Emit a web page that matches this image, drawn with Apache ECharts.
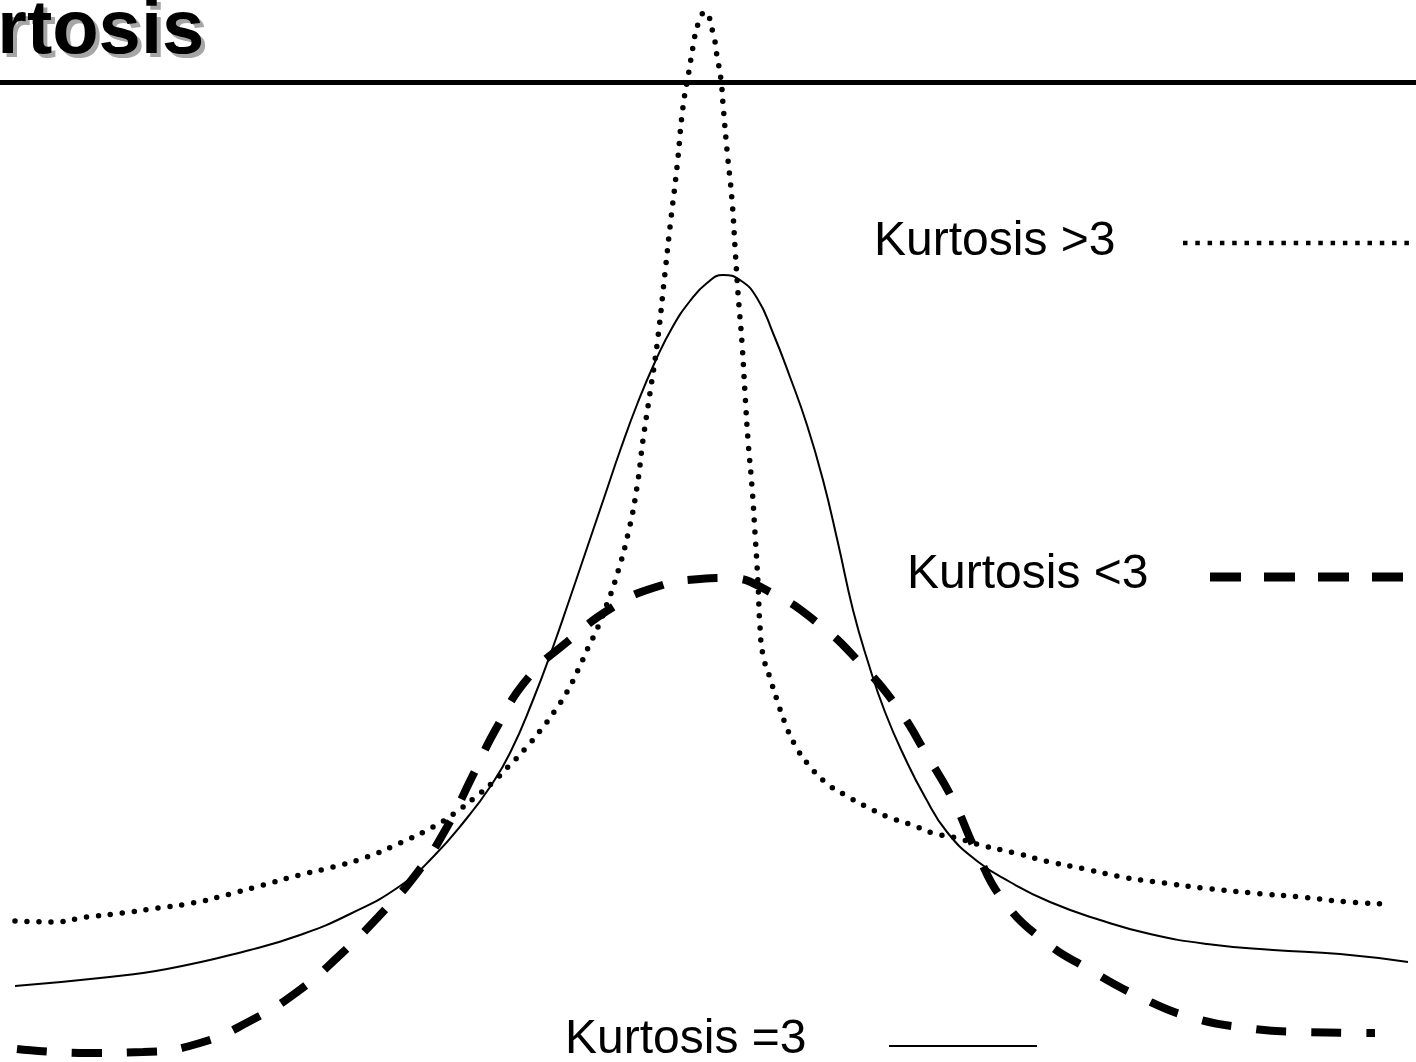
<!DOCTYPE html>
<html>
<head>
<meta charset="utf-8">
<title>Kurtosis</title>
<script src="https://cdn.jsdelivr.net/npm/echarts@6/dist/echarts.min.js"></script>
<style>
  html, body { margin: 0; padding: 0; background: #fff; }
  #chart { width: 1416px; height: 1062px; }
</style>
</head>
<body>
<div id="chart"></div>
<script>
// Curve samples: horizontal position and vertical position (measured from the top)
// Kurtosis = 3 (mesokurtic, solid)
const mesoX = [15, 100, 167, 250, 300, 350, 400, 433, 467, 490, 510, 533, 553, 570, 587, 604, 621, 638, 655, 672, 690, 707, 723, 740, 757, 773, 790, 807, 823, 838, 853, 868, 885, 905, 925, 947, 977, 1010, 1050, 1100, 1150, 1207, 1273, 1340, 1408];
const mesoY = [986, 978, 969, 950, 935, 914, 886, 857, 818, 787, 753, 700, 647, 598, 548, 498, 448, 402, 362, 328, 301, 283, 275, 280, 298, 333, 377, 425, 480, 543, 610, 662, 712, 758, 797, 832, 861, 882, 902, 920, 934, 944, 950, 954, 962];

// Kurtosis > 3 (leptokurtic, dotted)
const leptoX = [15, 52, 87, 123, 158, 193, 230, 263, 300, 333, 367, 400, 433, 455, 473, 492, 508, 525, 540, 554, 567, 578, 588, 598, 607, 616, 628, 637, 643, 650, 657, 665, 670, 677, 683, 689, 693, 698, 705, 713, 717, 721, 723, 727, 732, 735, 738, 742, 745, 748, 752, 755, 758, 760, 763, 770, 777, 785, 795, 808, 825, 845, 867, 888, 912, 933, 957, 980, 1015, 1050, 1085, 1122, 1157, 1203, 1252, 1300, 1348, 1383];
const leptoY = [921, 922, 917, 913, 908, 903, 894, 885, 875, 867, 857, 843, 827, 813, 799, 783, 767, 749, 731, 712, 692, 670, 648, 627, 604, 578, 534, 487, 440, 393, 345, 273, 227, 167, 107, 71, 47, 24, 12, 33, 56, 80, 104, 150, 200, 247, 293, 343, 393, 440, 487, 533, 583, 627, 655, 678, 700, 723, 745, 764, 782, 795, 807, 817, 825, 833, 838, 845, 853, 862, 869, 877, 882, 888, 893, 897, 902, 904];

// Kurtosis < 3 (platykurtic, dashed)
const platyX = [17, 87, 143, 200, 250, 297, 340, 380, 417, 447, 472, 497, 528, 567, 613, 653, 700, 727, 770, 820, 860, 897, 928, 953, 977, 1003, 1043, 1090, 1140, 1190, 1247, 1303, 1375];
const platyY = [1049, 1053, 1052, 1043, 1021, 992, 955, 915, 873, 827, 777, 727, 678, 642, 607, 588, 579, 578, 592, 625, 663, 707, 757, 800, 853, 900, 940, 970, 997, 1017, 1028, 1032, 1033];

const labels = ['Kurtosis >3', 'Kurtosis <3', 'Kurtosis =3'];
const titleText = 'Kurtosis';

const zip = (xs, ys) => xs.map((x, i) => [x, ys[i]]);

const FONT = '"Liberation Sans", Arial, Helvetica, sans-serif';
const TITLE_FONT = 'bold 76px ' + FONT;
const LABEL_FONT = '48px ' + FONT;

const chart = echarts.init(document.getElementById('chart'), null, { renderer: 'canvas' });

chart.setOption({
  backgroundColor: '#ffffff',
  animation: false,
  grid: { left: 0, right: 0, top: 0, bottom: 0 },
  xAxis: { type: 'value', min: 0, max: 1416, show: false },
  yAxis: { type: 'value', min: 0, max: 1062, inverse: true, show: false },
  series: [
    {
      name: labels[2],
      type: 'line',
      data: zip(mesoX, mesoY),
      smooth: 0.5,
      showSymbol: false,
      lineStyle: { color: '#000', width: 2 },
      z: 3
    },
    {
      name: labels[0],
      type: 'line',
      data: zip(leptoX, leptoY),
      smooth: 0.5,
      showSymbol: false,
      lineStyle: { color: '#000', width: 5.5, type: [0, 12], cap: 'round' },
      z: 4
    },
    {
      name: labels[1],
      type: 'line',
      data: zip(platyX, platyY),
      smooth: 0.5,
      showSymbol: false,
      lineStyle: { color: '#000', width: 8, type: [30, 25], cap: 'butt' },
      z: 2
    }
  ],
  graphic: [
    // heading with its drop shadow, and the rule beneath it
    {
      type: 'text', x: -100, y: 36, z: 9,
      style: { text: titleText, fill: '#a6a6a6', font: TITLE_FONT, verticalAlign: 'middle' }
    },
    {
      type: 'text', x: -104, y: 32, z: 10,
      style: { text: titleText, fill: '#000', font: TITLE_FONT, verticalAlign: 'middle' }
    },
    {
      type: 'line', z: 10,
      shape: { x1: 0, y1: 82.5, x2: 1416, y2: 82.5 },
      style: { stroke: '#000', lineWidth: 5 }
    },
    // key: labels with line samples
    {
      type: 'text', x: 874, y: 242, z: 10,
      style: { text: labels[0], fill: '#000', font: LABEL_FONT, verticalAlign: 'middle' }
    },
    {
      type: 'line', z: 10,
      shape: { x1: 1183, y1: 243, x2: 1416, y2: 243 },
      style: { stroke: '#000', lineWidth: 4.5, lineDash: [4.5, 7.8] }
    },
    {
      type: 'text', x: 907, y: 575, z: 10,
      style: { text: labels[1], fill: '#000', font: LABEL_FONT, verticalAlign: 'middle' }
    },
    {
      type: 'line', z: 10,
      shape: { x1: 1210, y1: 577, x2: 1404, y2: 577 },
      style: { stroke: '#000', lineWidth: 9, lineDash: [31, 23] }
    },
    {
      type: 'text', x: 565, y: 1040, z: 10,
      style: { text: labels[2], fill: '#000', font: LABEL_FONT, verticalAlign: 'middle' }
    },
    {
      type: 'line', z: 10,
      shape: { x1: 889, y1: 1046, x2: 1037, y2: 1046 },
      style: { stroke: '#000', lineWidth: 2 }
    }
  ]
});
</script>
</body>
</html>
